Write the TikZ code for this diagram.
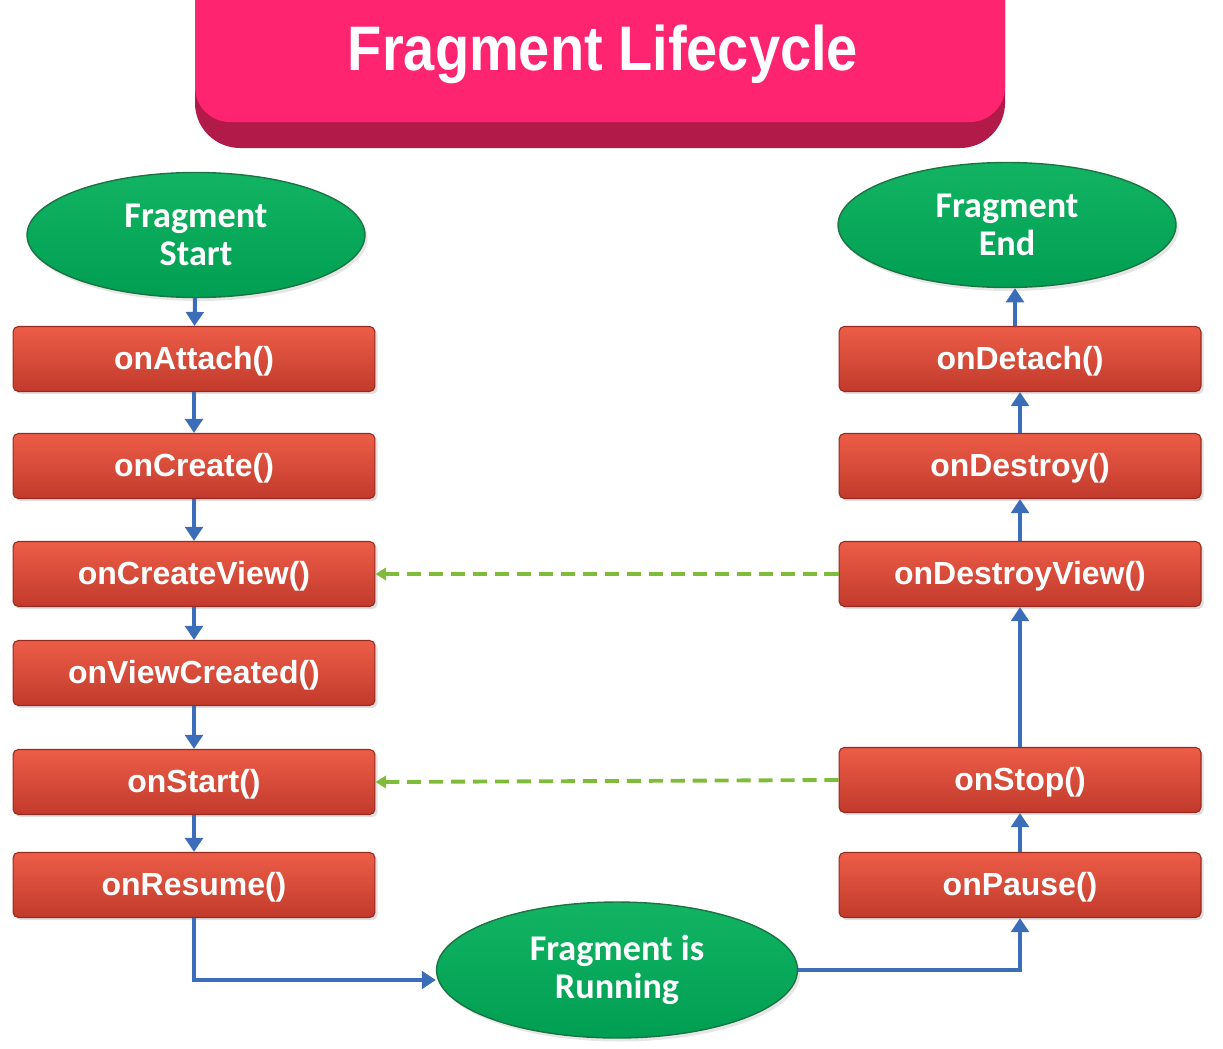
\documentclass[tikz,border=0pt]{standalone}
\usepackage{fontspec}
\setmainfont{Liberation Sans}
\newfontfamily\ovalfont{Carlito}
\usetikzlibrary{arrows.meta,positioning,shapes.geometric,shadows}
\definecolor{boxredtop}{HTML}{EC5D47}
\definecolor{boxredbot}{HTML}{C23A2C}
\definecolor{boxedge}{HTML}{962A20}
\definecolor{ovaltop}{HTML}{12B463}
\definecolor{ovalbot}{HTML}{009E52}
\definecolor{ovaledge}{HTML}{1C7443}
\definecolor{flowblue}{HTML}{3B6DB8}
\definecolor{backgreen}{HTML}{80BC3C}
\definecolor{titlepink}{HTML}{FF2470}
\definecolor{titledark}{HTML}{B21A4A}

\begin{document}
\begin{tikzpicture}[x=0.02cm,y=-0.02cm,>={Triangle[length=8pt,width=10pt]},
    stepbox/.style={rectangle,rounded corners=3pt,top color=boxredtop,bottom color=boxredbot,draw=boxedge,line width=0.6pt,
      minimum width=7.24cm,minimum height=1.3cm,text=white,font=\bfseries\fontsize{18.2}{21}\selectfont,
      text height=2.4ex,text depth=0.2ex,
      drop shadow={opacity=0.25,shadow xshift=1.5pt,shadow yshift=-1.5pt}},
    stateoval/.style={ellipse,top color=ovaltop,bottom color=ovalbot,draw=ovaledge,line width=0.8pt,inner sep=0pt,
      minimum width=6.76cm,minimum height=2.5cm,align=center,text=white,font=\ovalfont\bfseries\fontsize{20.6}{21.5}\selectfont,
      drop shadow={opacity=0.2,shadow xshift=1.5pt,shadow yshift=-2pt}},
    flow/.style={->,draw=flowblue,line width=2.3pt},
    back/.style={-{Triangle[length=6pt,width=7pt]},draw=backgreen,line width=2.2pt,dash pattern=on 8pt off 4.5pt}]
  \useasboundingbox (0,0) rectangle (1223,1048);
  \clip (0,0) rectangle (1223,1048);
  % title banner
  \fill[titledark,rounded corners=0.9cm] (195,-60) rectangle (1005,148);
  \fill[titlepink,rounded corners=0.7cm] (195,-60) rectangle (1005,122);
  \node[anchor=base,text=white,font=\bfseries\fontsize{35.8}{40}\selectfont] (title) at (603,70) {\scalebox{0.89}[1]{Fragment Lifecycle}};
  % states
  \node[stateoval] (start) at (196,235) {Fragment\\Start};
  \node[stateoval] (finish) at (1007,225) {Fragment\\End};
  \node[stateoval,minimum width=7.22cm,minimum height=2.72cm] (running) at (617,970) {Fragment is\\Running};
  % callbacks, left column
  \node[stepbox] (attach) at (194,359) {onAttach()};
  \node[stepbox] (create) at (194,466) {onCreate()};
  \node[stepbox] (cview) at (194,574) {onCreateView()};
  \node[stepbox] (vcreated) at (194,673) {onViewCreated()};
  \node[stepbox] (onstart) at (194,782) {onStart()};
  \node[stepbox] (resume) at (194,885) {onResume()};
  % callbacks, right column
  \node[stepbox] (detach) at (1020,359) {onDetach()};
  \node[stepbox] (destroy) at (1020,466) {onDestroy()};
  \node[stepbox] (dview) at (1020,574) {onDestroyView()};
  \node[stepbox] (stop) at (1020,780) {onStop()};
  \node[stepbox] (pause) at (1020,885) {onPause()};
  % flow
  \draw[flow] (start) -- (attach);
  \foreach \a/\b in {attach/create,create/cview,cview/vcreated,vcreated/onstart,onstart/resume}
    \draw[flow] (\a) -- (\b);
  \draw[flow] (resume.south) |- ([yshift=-0.2cm]running.west);
  \draw[flow] (running.east) -| (pause.south);
  \foreach \a/\b in {pause/stop,stop/dview,dview/destroy,destroy/detach}
    \draw[flow] (\a) -- (\b);
  \draw[flow] ([xshift=-0.1cm]detach.north) -- ([xshift=-0.1cm]detach.north |- finish.south);
  % back to view / start
  \draw[back] (dview.west) -- (cview.east);
  \draw[back] (stop.west) -- (onstart.east);
\end{tikzpicture}
\end{document}
